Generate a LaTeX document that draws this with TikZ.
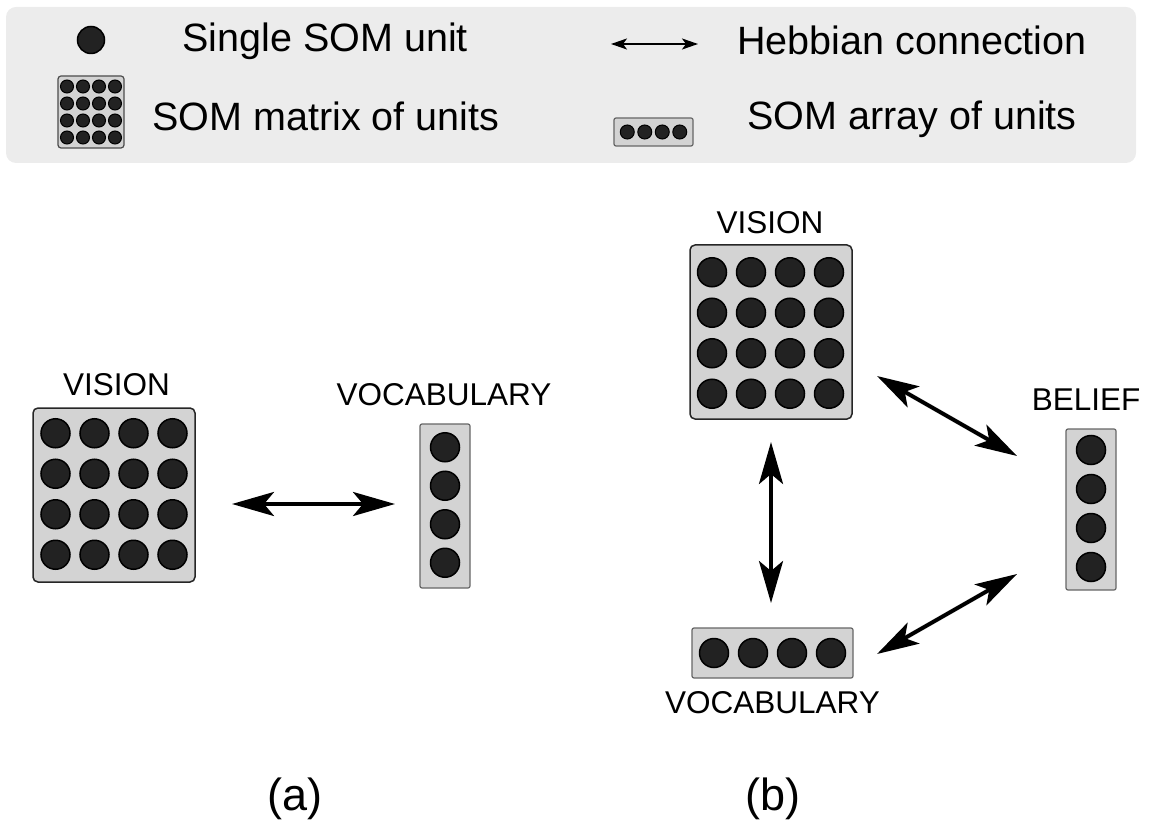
\documentclass[tikz,border=0pt]{standalone}
\usepackage{fontspec}
\setmainfont{Liberation Sans}
\usetikzlibrary{arrows.meta}
\definecolor{legbg}{HTML}{ECECEC}
\definecolor{boxfill}{HTML}{D3D3D3}
\definecolor{unitfill}{HTML}{222222}
\definecolor{arrbord}{HTML}{666666}
\begin{document}
\begin{tikzpicture}[x=0.5pt,y=-0.5pt,
  legendbg/.style={fill=legbg, rounded corners=5pt, draw=none, inner sep=0pt, minimum width=565pt, minimum height=78pt},
  matbox/.style={fill=boxfill, draw=black!85, line width=0.75pt, rounded corners=2.5pt, inner sep=0pt, minimum width=81pt, minimum height=87pt},
  arrbox/.style={fill=boxfill, draw=arrbord, line width=0.6pt, rounded corners=1pt, inner sep=0pt},
  unit/.style={circle, fill=unitfill, draw=black, line width=0.75pt, inner sep=0pt, minimum size=14.5pt},
  smallunit/.style={circle, fill=unitfill, draw=black, line width=0.5pt, inner sep=0pt, minimum size=6.5pt},
  legtext/.style={anchor=base west, inner sep=0pt, font=\fontsize{19.75pt}{24pt}\selectfont},
  lbl/.style={anchor=base, inner sep=0pt, font=\fontsize{15.75pt}{19pt}\selectfont},
  sublbl/.style={anchor=base, inner sep=0pt, font=\fontsize{22.5pt}{27pt}\selectfont},
  hebb/.style={{Stealth[length=21pt,width=12pt,inset=5pt]}-{Stealth[length=21pt,width=12pt,inset=5pt]}, line width=2pt},
  hebbsmall/.style={{Stealth[length=8pt,width=5.5pt,inset=2pt]}-{Stealth[length=8pt,width=5.5pt,inset=2pt]}, line width=0.9pt}
]
\useasboundingbox (0,0) rectangle (1154,823);

% ---------- legend ----------
\node[legendbg] (legend) at (571,85) {};
\node[unit, minimum size=13.5pt] (legunit) at (91,40) {};
\node[legtext] (t1) at (182,52) {Single SOM unit};
\node[arrbox, draw=black!70, line width=0.6pt, rounded corners=1.5pt, minimum width=33pt, minimum height=36pt] (legmat) at (91,112) {};
\foreach \i in {1,...,4} \foreach \j in {1,...,4}
  \node[smallunit] (lm-\i-\j) at ({91+(\j-2.5)*16},{112+(\i-2.5)*17}) {};
\node[legtext] (t2) at (152,131) {SOM matrix of units};
\coordinate (la1) at (611,44);
\coordinate (la2) at (698,44);
\draw[hebbsmall] (la1) -- (la2);
\node[legtext] (t3) at (737,55) {Hebbian connection};
\node[arrbox, minimum width=39.5pt, minimum height=14pt] (legarr) at (653.5,132) {};
\foreach \j in {1,...,4}
  \node[smallunit, minimum size=7pt] (la-\j) at ({653.5+(\j-2.5)*17.5},132) {};
\node[legtext] (t4) at (747,130) {SOM array of units};

% ---------- (a) ----------
\node[matbox] (visA) at (114,495) {};
\foreach \i in {1,...,4} \foreach \j in {1,...,4}
  \node[unit] (va-\i-\j) at ({114+(\j-2.5)*39},{494+(\i-2.5)*40.5}) {};
\node[lbl] (visAlbl) at (116.5,395) {VISION};
\node[arrbox, minimum width=25pt, minimum height=82pt] (vocA) at (445,506) {};
\foreach \i in {1,...,4}
  \node[unit] (wa-\i) at (445,{505+(\i-2.5)*38.5}) {};
\node[lbl] (vocAlbl) at (444,405) {VOCABULARY};
\coordinate (aL) at (232,504);
\coordinate (aR) at (395,504);
\draw[hebb] (aL) -- (aR);
\node[sublbl] (suba) at (295,810) {(a)};

% ---------- (b) ----------
\node[matbox] (visB) at (771,332) {};
\foreach \i in {1,...,4} \foreach \j in {1,...,4}
  \node[unit] (vb-\i-\j) at ({770.5+(\j-2.5)*39},{333+(\i-2.5)*40.5}) {};
\node[lbl] (visBlbl) at (770,234) {VISION};
\node[arrbox, minimum width=25pt, minimum height=80.5pt] (bel) at (1091,509.5) {};
\foreach \i in {1,...,4}
  \node[unit] (bu-\i) at (1091,{508.5+(\i-2.5)*39}) {};
\node[lbl] (bellbl) at (1086,410) {BELIEF};
\node[arrbox, minimum width=80.5pt, minimum height=25pt] (vocB) at (772.5,653) {};
\foreach \j in {1,...,4}
  \node[unit] (wb-\j) at ({772.5+(\j-2.5)*39},653) {};
\node[lbl] (vocBlbl) at (772.5,713) {VOCABULARY};
\coordinate (v1) at (771,442);
\coordinate (v2) at (771,603);
\draw[hebb] (v1) -- (v2);
\coordinate (d1) at (877,376);
\coordinate (d2) at (1017,456);
\draw[hebb] (d1) -- (d2);
\coordinate (e1) at (877,654);
\coordinate (e2) at (1017,574);
\draw[hebb] (e1) -- (e2);
\node[sublbl] (subb) at (773,810) {(b)};
\end{tikzpicture}
\end{document}
